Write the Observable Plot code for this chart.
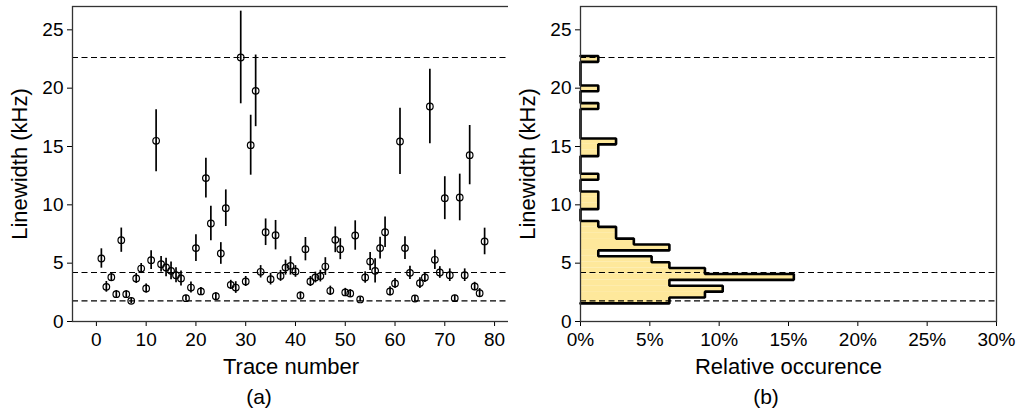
<!DOCTYPE html>
<html>
<head>
<meta charset="utf-8">
<script src="https://cdn.jsdelivr.net/npm/d3@7"></script>
<script src="https://cdn.jsdelivr.net/npm/@observablehq/plot@0.6"></script>
<style>
  html, body { margin: 0; padding: 0; background: #fff; }
  #fig { position: relative; width: 1020px; height: 418px; font-family: "Liberation Sans", Arial, sans-serif; }
  #left, #right { position: absolute; top: 0; }
  #left { left: 0; }
  #right { left: 508px; }
  .cap { position: absolute; top: 385px; font-size: 21px; transform: translateX(-50%); color: #000; }
</style>
</head>
<body>
<div id="fig">
  <div id="left"></div>
  <div id="right"></div>
  <div class="cap" style="left:259px">(a)</div>
  <div class="cap" style="left:766px">(b)</div>
</div>
<script>
// ---- data ----
const traceNumbers = d3.range(1, 79);
const linewidths = [5.40, 2.97, 3.80, 2.34, 6.97, 2.34, 1.77, 3.69, 4.54, 2.83,
  5.26, 15.49, 4.91, 4.63, 4.34, 3.97, 3.69, 2.00, 2.91, 6.29,
  2.58, 12.29, 8.40, 2.17, 5.83, 9.71, 3.14, 2.91, 22.63, 3.43,
  15.11, 19.77, 4.26, 7.65, 3.63, 7.40, 3.91, 4.62, 4.77, 4.29,
  2.23, 6.20, 3.43, 3.77, 3.89, 4.71, 2.63, 7.00, 6.20, 2.49,
  2.40, 7.37, 1.89, 3.77, 5.14, 4.34, 6.29, 7.65, 2.58, 3.26,
  15.43, 6.29, 4.17, 1.97, 3.29, 3.77, 18.43, 5.29, 4.20, 10.57,
  3.97, 2.00, 10.63, 3.97, 14.26, 3.00, 2.43, 6.86];
const errors = [0.83, 0.46, 0.39, 0.31, 1.04, 0.30, 0.25, 0.43, 0.43, 0.39,
  0.81, 2.65, 0.67, 0.80, 0.76, 0.64, 0.64, 0.25, 0.47, 1.14,
  0.33, 1.70, 1.47, 0.30, 0.93, 1.57, 0.39, 0.50, 3.97, 0.43,
  2.57, 3.07, 0.53, 1.14, 0.50, 1.26, 0.47, 0.64, 0.79, 0.50,
  0.30, 1.00, 0.43, 0.46, 0.50, 0.76, 0.40, 1.10, 0.90, 0.35,
  0.33, 1.26, 0.20, 0.49, 0.77, 1.03, 0.93, 1.31, 0.39, 0.43,
  2.84, 0.97, 0.57, 0.25, 0.47, 0.43, 3.19, 0.83, 0.50, 1.84,
  0.54, 0.25, 2.00, 0.54, 2.54, 0.36, 0.39, 1.14];
const dashedLevels = [22.63, 4.2, 1.77];
// histogram: bin edges start and width (kHz), counts per bin
const binStart = 1.55;
const binWidth = 0.505;
const binCounts = [5, 7, 8, 5, 12, 7, 5, 4, 1, 5, 3, 2, 2, 1, 0, 0, 1, 1, 1, 0,
  0, 1, 0, 0, 0, 1, 1, 2, 0, 0, 0, 0, 0, 1, 0, 0, 1, 0, 0, 0, 0, 1];
const xTicksLeft = [0, 10, 20, 30, 40, 50, 60, 70, 80];
const yTicks = [0, 5, 10, 15, 20, 25];
const xTicksRight = [0, 5, 10, 15, 20, 25, 30];

// ---- derived tables ----
const points = traceNumbers.map((n, i) => ({n, v: linewidths[i], e: errors[i]}));
const total = traceNumbers.length;
const bins = binCounts.map((c, k) => ({lo: binStart + k * binWidth, hi: binStart + (k + 1) * binWidth, p: c / total * 100}));
const step = [{p: 0, y: bins[0].lo}];
bins.forEach(b => step.push({p: b.p, y: b.lo}, {p: b.p, y: b.hi}));
step.push({p: 0, y: bins[bins.length - 1].hi});

const font = "Liberation Sans, Arial, sans-serif";
const tickFs = "19px";
const labelFs = "22px";
const common = {
  height: 380,
  marginTop: 6,
  marginBottom: 59,
  marginLeft: 72,
  style: {fontFamily: font, fontSize: tickFs, color: "#000", background: "#fff", overflow: "visible"},
};

const left = Plot.plot({
  ...common,
  width: 515,
  marginRight: 6,
  x: {domain: [-4.8, 83]},
  y: {domain: [0, 27]},
  marks: [
    Plot.ruleY(dashedLevels, {stroke: "#000", strokeWidth: 1.2, strokeDasharray: "6,3.5"}),
    Plot.ruleX(points, {x: "n", y1: d => d.v - d.e, y2: d => d.v + d.e, stroke: "#000", strokeWidth: 1.7}),
    Plot.dot(points, {x: "n", y: "v", r: 3.3, stroke: "#000", fill: "none", strokeWidth: 1.2}),
    Plot.axisX({ticks: xTicksLeft, tickSize: 5, tickPadding: 6, label: null, fontSize: tickFs}),
    Plot.axisX({ticks: [], tickSize: 0, label: "Trace number", labelAnchor: "center", labelOffset: 52, labelArrow: "none", fontSize: labelFs}),
    Plot.axisY({ticks: yTicks, tickSize: 5, tickPadding: 4, label: null, fontSize: tickFs}),
    Plot.axisY({ticks: [], tickSize: 0, label: "Linewidth (kHz)", labelAnchor: "center", labelOffset: 61, labelArrow: "none", fontSize: labelFs}),
    Plot.frame({stroke: "#333", strokeWidth: 1.3})
  ]
});

const right = Plot.plot({
  ...common,
  width: 512,
  marginRight: 24,
  x: {domain: [0, 30]},
  y: {domain: [0, 27]},
  marks: [
    Plot.rectX(bins.filter(b => b.p > 0), {x1: 0, x2: "p", y1: "lo", y2: "hi", fill: "#fee89b"}),
    Plot.ruleY(dashedLevels, {stroke: "#000", strokeWidth: 1.2, strokeDasharray: "6,3.5"}),
    Plot.lineX(step, {x: "p", y: "y", stroke: "#000", strokeWidth: 2.6, strokeLinejoin: "miter"}),
    Plot.axisX({ticks: xTicksRight, tickFormat: d => d + "%", tickSize: 5, tickPadding: 6, label: null, fontSize: tickFs}),
    Plot.axisX({ticks: [], tickSize: 0, label: "Relative occurence", labelAnchor: "center", labelOffset: 52, labelArrow: "none", fontSize: labelFs}),
    Plot.axisY({ticks: yTicks, tickSize: 5, tickPadding: 4, label: null, fontSize: tickFs}),
    Plot.axisY({ticks: [], tickSize: 0, label: "Linewidth (kHz)", labelAnchor: "center", labelOffset: 61, labelArrow: "none", fontSize: labelFs}),
    Plot.frame({stroke: "#333", strokeWidth: 1.3})
  ]
});

document.getElementById("left").appendChild(left);
document.getElementById("right").appendChild(right);
</script>
</body>
</html>
